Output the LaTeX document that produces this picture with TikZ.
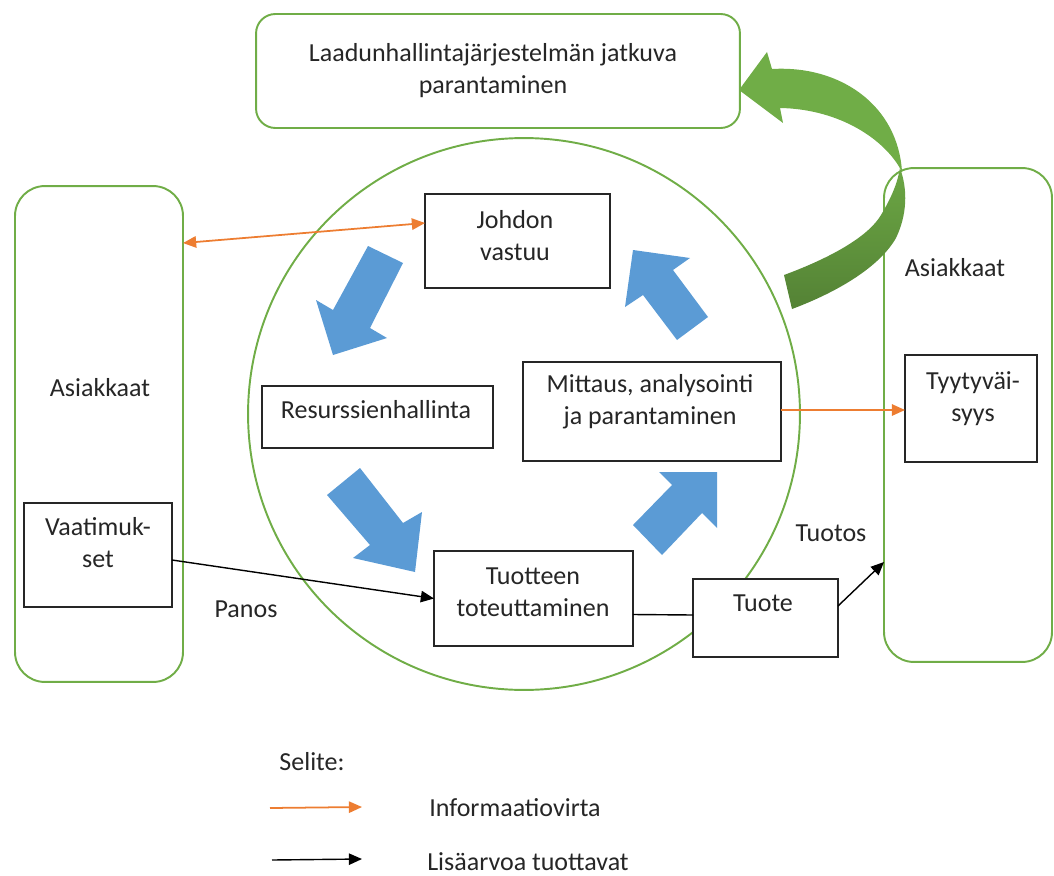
\documentclass[tikz,border=0pt]{standalone}
\usepackage{fontspec}
\setmainfont{Carlito}
\usetikzlibrary{arrows.meta,calc}
\definecolor{frame}{HTML}{70AD47}
\definecolor{info}{HTML}{ED7D31}
\definecolor{flow}{HTML}{5B9BD5}
\definecolor{loopA}{HTML}{70AD47}
\definecolor{loopB}{HTML}{548235}
\definecolor{ink}{HTML}{262626}

\begin{document}
\begin{tikzpicture}[x=0.02cm,y=-0.02cm,
  every node/.style={font=\fontsize{14.8}{18.2}\selectfont, text=ink},
  greenbox/.style={draw=frame, line width=1.1pt, rounded corners=17pt, inner sep=0pt, outer sep=0pt},
  blackbox/.style={draw=black!85, line width=0.85pt, inner sep=0pt, outer sep=0pt},
  label/.style={align=center, inner sep=0pt},
  infoarrow/.style={draw=info, line width=1pt, -{Triangle[length=7.5pt,width=6.5pt]}},
  valuearrow/.style={draw=black, line width=0.8pt, -{Triangle[length=7.5pt,width=6.5pt]}},
  blockarrow/.style={fill=flow, draw=none}
]
\useasboundingbox (0,0) rectangle (1054,875);

% --- frames -------------------------------------------------------------
\node[greenbox, rounded corners=11pt, minimum width=9.68cm, minimum height=2.28cm] (top) at (498,71) {};
\node[label] (toptext) at (493,70.5) {Laadunhallintajärjestelmän jatkuva\\parantaminen};

\node[greenbox, minimum width=3.36cm, minimum height=9.92cm] (lbox) at (99,434) {};
\node[label] (ltext) at (100,388) {Asiakkaat};

\node[greenbox, minimum width=3.36cm, minimum height=9.88cm] (rbox) at (968,415) {};
\node[label] (rtext) at (955,268) {Asiakkaat};

\node[circle, draw=frame, line width=1.1pt, minimum size=11.04cm, inner sep=0pt] (ring) at (524,414) {};

% --- process boxes ------------------------------------------------------
\node[blackbox, fill=white, minimum width=3.70cm, minimum height=1.88cm] (johdon) at (517.5,241) {};
\node[label] at (515,236) {Johdon\\vastuu};

\node[blackbox, fill=white, minimum width=4.62cm, minimum height=1.24cm] (resurssi) at (377.5,417) {};
\node[label] at (376,410) {Resurssienhallinta};

\node[blackbox, fill=white, minimum width=5.16cm, minimum height=1.98cm] (mittaus) at (652,411.5) {};
\node[label] at (650,401.5) {Mittaus, analysointi\\ja parantaminen};

\node[blackbox, fill=white, minimum width=3.98cm, minimum height=1.90cm] (tuotteen) at (533.5,598.5) {};
\node[label] at (533,592.5) {Tuotteen\\toteuttaminen};

\node[blackbox, fill=white, minimum width=2.90cm, minimum height=1.56cm] (tuote) at (765.5,618) {};
\node[label] at (763,603) {Tuote};

\node[blackbox, fill=white, minimum width=2.96cm, minimum height=2.08cm] (vaat) at (98,555) {};
\node[label] at (98,542.5) {Vaatimuk-\\set};

\node[blackbox, fill=white, minimum width=2.64cm, minimum height=2.14cm] (tyyty) at (971,408.5) {};
\node[label] at (973,399) {Tyytyväi-\\syys};

% --- cycle arrows -------------------------------------------------------
\fill[blockarrow] (403,263) -- (370,328) -- (387,338) -- (333,355) -- (316,300) -- (333,310) -- (368,246) -- cycle;
\fill[blockarrow] (360,468) -- (403,523) -- (422,512) -- (415,572) -- (353,558) -- (370,545) -- (327,495) -- cycle;
\fill[blockarrow] (633,525) -- (672,485) -- (659,472) -- (717,472) -- (717,528) -- (702,513) -- (662,555) -- cycle;
\fill[blockarrow] (677,340) -- (643,295) -- (625,307) -- (633,250) -- (690,258) -- (673,270) -- (708,317) -- cycle;

% --- improvement loop ---------------------------------------------------
\shade[top color=loopA!85!loopB, bottom color=loopB]
  (900,168) .. controls (908,190) and (907,215) .. (896,238)
  .. controls (880,266) and (840,291) .. (792,309)
  -- (784,275)
  .. controls (830,258) and (868,237) .. (881,215)
  .. controls (891,198) and (897,185) .. (900,168) -- cycle;
\fill[loopA]
  (739,90) -- (767,52) -- (772,69)
  .. controls (840,65) and (898,105) .. (902,172)
  .. controls (886,140) and (840,109) .. (780,108)
  -- (783,123) -- cycle;

% --- connectors ---------------------------------------------------------
\draw[infoarrow, {Triangle[length=7.5pt,width=6.5pt]}-{Triangle[length=7.5pt,width=6.5pt]}]
  ($(lbox.north east)+(0,57)$) -- ($(johdon.west)+(0,-18)$);
\draw[infoarrow] ($(mittaus.east)+(0,-1.5)$) -- ($(mittaus.east -| tyyty.west)+(0,-1.5)$);
\draw[valuearrow] ($(vaat.east)+(0,5)$) -- (tuotteen.west);
\draw[black, line width=0.8pt] ($(tuotteen.east)+(0,16)$) -- ($(tuote.west)+(0,-3)$);
\draw[valuearrow] ($(tuote.east)+(0,-12)$) -- ($(rbox.west)+(0,147)$);

\node[label] (panos) at (246,609) {Panos};
\node[label] (tuotos) at (831,533) {Tuotos};

% --- legend -------------------------------------------------------------
\node[label] (selite) at (312,762) {Selite:};
\coordinate (infoA) at (270,808);
\coordinate (infoB) at (362,807);
\draw[infoarrow] (infoA) -- (infoB);
\node[label] (infotext) at (515,808) {Informaatiovirta};
\coordinate (valA) at (272,860);
\coordinate (valB) at (362,859);
\draw[valuearrow] (valA) -- (valB);
\node[label] (valtext) at (528,862) {Lisäarvoa tuottavat};
\end{tikzpicture}
\end{document}
